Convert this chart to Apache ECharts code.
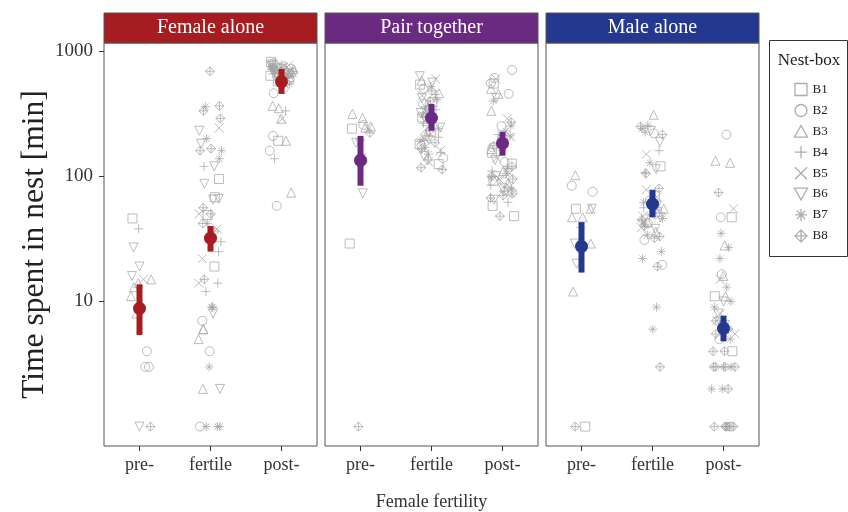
<!DOCTYPE html>
<html><head><meta charset="utf-8">
<script src="https://cdn.jsdelivr.net/npm/echarts@6/dist/echarts.min.js"></script>
<style>html,body{margin:0;padding:0;background:#fff}#c{width:848px;height:512px}</style>
</head><body><div id="c"></div><script>
// ---- categories / labels ----
const periods = ['pre-', 'fertile', 'post-'];
const panels = ['Female alone', 'Pair together', 'Male alone'];
const boxes = ['B1', 'B2', 'B3', 'B4', 'B5', 'B6', 'B7', 'B8'];
const yTicks = [10, 100, 1000];

// ---- raw observations: [nest-box number, minutes] ----
const FA_pre = [[1,46],[4,38],[6,27],[6,19],[6,16],[3,15],[5,15],[3,14],[3,13],[3,11],[3,8],[2,4],[2,3],[2,3],[8,1],[6,1]];
const FA_fertile = [[8,690],[8,365],[7,360],[8,333],[8,290],[5,243],[6,231],[7,200],[6,182],[8,166],[8,160],[7,160],[7,138],[4,120],[6,120],[6,87],[1,95],[6,66],[1,68],[6,65],[8,56],[5,50],[8,50],[1,49],[7,42],[8,42],[5,38],[8,36],[4,30],[4,25],[5,22],[1,19],[8,15],[4,14],[5,14],[4,12],[7,9],[7,9],[4,9],[6,8],[2,7],[3,6],[3,6],[3,5],[2,4],[7,3],[3,2],[6,2],[7,1],[2,1],[7,1],[7,1]];
const FA_post = [[1,820],[2,800],[3,790],[4,780],[5,770],[6,760],[7,750],[8,740],[1,730],[2,720],[3,715],[4,710],[5,700],[6,695],[7,690],[8,685],[1,680],[2,670],[3,665],[4,660],[5,655],[6,650],[7,645],[8,640],[1,635],[2,630],[3,620],[4,610],[5,600],[6,780],[7,760],[8,720],[2,700],[3,680],[6,740],[7,700],[8,660],[2,590],[1,575],[7,545],[2,500],[2,460],[3,365],[3,350],[4,333],[3,288],[5,288],[2,210],[1,192],[3,192],[2,160],[4,138],[3,74],[2,58]];

const PT_pre = [[3,315],[3,292],[2,257],[1,240],[5,240],[3,250],[3,245],[8,222],[6,185],[6,182],[4,150],[2,133],[6,73],[1,29],[8,1]];
const PT_fertile = [[6,630],[5,600],[3,580],[6,560],[1,540],[7,520],[2,500],[8,480],[3,460],[4,450],[5,440],[6,420],[7,410],[8,400],[1,390],[2,380],[3,370],[7,360],[8,350],[4,340],[5,330],[6,320],[7,310],[8,300],[1,295],[2,285],[3,275],[4,265],[5,255],[6,245],[7,240],[8,230],[1,225],[2,215],[3,210],[4,205],[5,200],[6,195],[7,190],[8,185],[1,180],[2,175],[7,170],[8,165],[5,160],[4,155],[6,145],[2,140],[8,135],[5,130],[1,125],[8,117],[8,113],[7,150],[3,320]];
const PT_post = [[2,705],[5,600],[2,610],[1,550],[2,555],[3,500],[3,455],[2,455],[6,420],[7,400],[3,333],[5,288],[2,252],[7,252],[8,270],[7,230],[1,195],[4,215],[7,210],[5,205],[6,180],[8,175],[2,170],[1,154],[7,160],[3,165],[1,126],[5,140],[6,135],[2,130],[8,120],[7,115],[4,110],[5,105],[6,100],[7,98],[8,95],[1,92],[2,90],[3,88],[4,85],[5,82],[6,80],[7,78],[8,76],[2,74],[7,72],[8,70],[8,67],[1,58],[1,48],[8,48],[4,62],[6,65],[3,110],[7,105],[8,100],[5,95]];

const MA_pre = [[3,102],[2,84],[2,75],[1,55],[6,55],[3,55],[3,47],[3,47],[4,39],[6,29],[3,29],[6,20],[3,12],[8,1],[1,1]];
const MA_fertile = [[3,310],[7,255],[8,250],[7,240],[6,230],[7,225],[2,220],[8,215],[6,188],[4,160],[5,150],[7,128],[1,120],[6,114],[4,107],[8,105],[5,78],[8,80],[2,64],[1,70],[5,68],[2,60],[7,62],[6,58],[4,56],[3,55],[8,54],[1,52],[2,50],[7,49],[5,48],[6,47],[7,46],[8,45],[4,44],[3,43],[2,42],[7,41],[8,40],[5,39],[6,38],[3,36],[8,33],[8,32],[7,34],[2,31],[7,25],[7,22],[2,19.6],[8,19],[7,9],[7,6],[8,3]];
const MA_post = [[2,215],[3,128],[3,133],[8,74],[5,55],[2,47],[1,47],[7,35],[7,27],[3,28],[7,22],[2,16.5],[3,16],[5,15],[7,13],[1,11],[3,11],[7,10],[6,10],[7,9],[6,8],[5,8],[8,7],[5,7],[2,6.5],[6,6.5],[7,6],[8,6],[5,5.5],[8,5.5],[2,5],[7,5],[1,4],[8,4],[8,4],[8,3],[8,3],[8,3],[8,3],[7,3],[7,3],[8,2],[7,2],[7,2],[8,1],[8,1],[8,1],[8,1],[8,1],[8,1],[2,1]];

// ---- model estimates (mean and interval) per period ----
const FA_mean = [8.8, 32, 570];  const FA_lo = [5.4, 25, 455];  const FA_hi = [13.7, 40, 720];
const PT_mean = [134, 292, 183]; const PT_lo = [84, 231, 146];  const PT_hi = [210, 378, 227];
const MA_mean = [27.5, 60, 6.1]; const MA_lo = [17, 47, 4.8];   const MA_hi = [43, 78, 7.7];

// ---- styling ----
const panelColors = ['#A71C21', '#6A2A82', '#25388F'];
const boxSymbols = [
  'path://M0,0H10V10H0Z',
  'circle',
  'path://M5,0L10,9L0,9Z',
  'path://M5,0V10M0,5H10',
  'path://M0,0L10,10M10,0L0,10',
  'path://M0,0H10L5,9Z',
  'path://M5,0V10M0,5H10M1.5,1.5L8.5,8.5M8.5,1.5L1.5,8.5',
  'path://M5,0L10,5L5,10L0,5ZM5,0V10M0,5H10'
];
const SERIF = '"Liberation Serif", "DejaVu Serif", serif';
const gridLefts = [104, 325, 546];
const GW = 213, GT = 43, GH = 403;
const pointGrey = '#a3a3a3';

const panelData = [[FA_pre, FA_fertile, FA_post], [PT_pre, PT_fertile, PT_post], [MA_pre, MA_fertile, MA_post]];
const panelMean = [FA_mean, PT_mean, MA_mean];
const panelLo = [FA_lo, PT_lo, MA_lo];
const panelHi = [FA_hi, PT_hi, MA_hi];

const grids = [], xAxes = [], yAxes = [], series = [];
panels.forEach((p, i) => {
  grids.push({left: gridLefts[i], top: GT, width: GW, height: GH, show: true, borderColor: '#555', borderWidth: 1,
    backgroundColor: '#fff', containLabel: false, outerBoundsMode: 'none'});
  xAxes.push({
    type: 'category', gridIndex: i, data: periods, boundaryGap: true,
    jitter: 24, jitterOverlap: true,
    axisLine: {show: false},
    axisTick: {show: true, alignWithLabel: true, length: 5, lineStyle: {color: '#333'}},
    axisLabel: {fontFamily: SERIF, fontSize: 18, color: '#333', margin: 10},
    splitLine: {show: false},
    name: i === 1 ? 'Female fertility' : '', nameLocation: 'middle', nameGap: 47,
    nameTextStyle: {fontFamily: SERIF, fontSize: 18, color: '#333'}
  });
  yAxes.push({
    type: 'log', logBase: 10, gridIndex: i, min: 0.7, max: 1160,
    axisLine: {show: false},
    splitLine: {show: false},
    axisTick: {show: i === 0, length: 5, lineStyle: {color: '#333'}, customValues: yTicks},
    axisLabel: {show: i === 0, fontFamily: SERIF, fontSize: 19, color: '#333', margin: 11,
      customValues: yTicks, formatter: v => String(v)},
    name: i === 0 ? 'Time spent in nest [min]' : '', nameLocation: 'middle', nameGap: 53,
    nameTextStyle: {fontFamily: SERIF, fontSize: 31.5, color: '#222'}
  });
  boxes.forEach((b, k) => {
    const pts = [];
    panelData[i].forEach((arr, j) => {
      arr.forEach(d => { if (d[0] === k + 1) pts.push([periods[j], d[1]]); });
    });
    series.push({
      type: 'scatter', name: b, xAxisIndex: i, yAxisIndex: i, data: pts,
      symbol: boxSymbols[k], symbolSize: 9,
      itemStyle: {color: 'none', borderColor: pointGrey, borderWidth: 0.9},
      emphasis: {disabled: true}, z: 2
    });
  });
  const est = periods.map((per, j) => [j, panelMean[i][j], panelLo[i][j], panelHi[i][j]]);
  const col = panelColors[i];
  series.push({
    type: 'custom', xAxisIndex: i, yAxisIndex: i, data: est, z: 5,
    renderItem: (params, api) => {
      const x = api.value(0);
      const m = api.coord([x, api.value(1)]);
      const lo = api.coord([x, api.value(2)]);
      const hi = api.coord([x, api.value(3)]);
      return {type: 'group', children: [
        {type: 'rect', shape: {x: m[0] - 3, y: hi[1], width: 6, height: lo[1] - hi[1]}, style: {fill: col}},
        {type: 'circle', shape: {cx: m[0], cy: m[1], r: 6.5}, style: {fill: col}}
      ]};
    }
  });
});

const graphics = [];
panels.forEach((p, i) => {
  graphics.push({type: 'rect', shape: {x: gridLefts[i], y: 13, width: GW, height: 30}, style: {fill: panelColors[i], stroke: '#555', lineWidth: 1}});
  graphics.push({type: 'text', style: {text: p, x: gridLefts[i] + GW / 2, y: 28, align: 'center', verticalAlign: 'middle', fill: '#fff', font: '20px ' + SERIF}});
});
graphics.push({type: 'rect', shape: {x: 769.5, y: 40.5, width: 78, height: 216}, style: {fill: 'none', stroke: '#333', lineWidth: 1}});
graphics.push({type: 'text', style: {text: 'Nest-box', x: 809, y: 61, align: 'center', verticalAlign: 'middle', fill: '#222', font: '17px ' + SERIF}});

const chart = echarts.init(document.getElementById('c'), null, {renderer: 'canvas'});
chart.setOption({
  animation: false,
  backgroundColor: '#fff',
  grid: grids, xAxis: xAxes, yAxis: yAxes, series: series,
  graphic: graphics,
  legend: {
    orient: 'vertical', left: 792, top: 81, padding: 0,
    itemWidth: 13, itemHeight: 12, itemGap: 4, selectedMode: false,
    data: boxes.map((b, k) => ({name: b, icon: boxSymbols[k]})),
    itemStyle: {color: 'none', borderColor: '#999', borderWidth: 1.3},
    textStyle: {fontFamily: SERIF, fontSize: 13, color: '#222'}
  }
});
</script></body></html>
